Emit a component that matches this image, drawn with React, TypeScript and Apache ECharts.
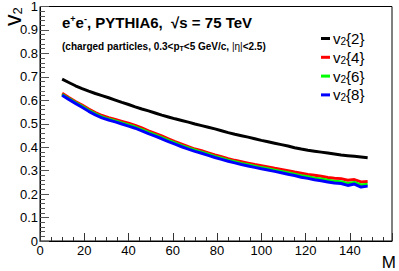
import React, { useEffect, useRef } from 'react';
import * as echarts from 'echarts';

const M = [10, 13, 16, 19, 22, 25, 28, 31, 34, 37, 40, 43, 46, 49, 52, 55, 58, 61, 64, 67, 70, 73, 76, 79, 82, 85, 88, 91, 94, 97, 100, 103, 106, 109, 112, 115, 118, 121, 124, 127, 130, 133, 136, 139, 142, 145, 148];
const v22 = [0.690, 0.676, 0.662, 0.650, 0.639, 0.629, 0.620, 0.611, 0.601, 0.591, 0.582, 0.572, 0.563, 0.555, 0.546, 0.537, 0.529, 0.521, 0.514, 0.507, 0.499, 0.492, 0.485, 0.478, 0.470, 0.462, 0.455, 0.449, 0.443, 0.436, 0.429, 0.423, 0.417, 0.411, 0.405, 0.398, 0.392, 0.387, 0.383, 0.379, 0.375, 0.371, 0.367, 0.364, 0.361, 0.358, 0.355];
const v24 = [0.630, 0.612, 0.595, 0.580, 0.563, 0.548, 0.535, 0.526, 0.518, 0.510, 0.502, 0.493, 0.482, 0.470, 0.459, 0.448, 0.436, 0.424, 0.413, 0.402, 0.392, 0.385, 0.376, 0.367, 0.359, 0.351, 0.344, 0.338, 0.332, 0.326, 0.321, 0.316, 0.310, 0.305, 0.300, 0.294, 0.289, 0.284, 0.280, 0.276, 0.271, 0.268, 0.266, 0.259, 0.262, 0.252, 0.254];
const v26 = [0.625, 0.607, 0.590, 0.574, 0.557, 0.542, 0.529, 0.520, 0.512, 0.503, 0.495, 0.486, 0.475, 0.463, 0.452, 0.441, 0.429, 0.418, 0.407, 0.397, 0.387, 0.379, 0.370, 0.361, 0.353, 0.345, 0.338, 0.331, 0.325, 0.319, 0.313, 0.308, 0.302, 0.297, 0.291, 0.285, 0.278, 0.274, 0.268, 0.264, 0.259, 0.255, 0.253, 0.245, 0.250, 0.239, 0.242];
const v28 = [0.622, 0.604, 0.587, 0.570, 0.553, 0.538, 0.525, 0.516, 0.508, 0.499, 0.490, 0.481, 0.470, 0.458, 0.447, 0.436, 0.424, 0.413, 0.402, 0.392, 0.382, 0.374, 0.365, 0.356, 0.348, 0.340, 0.333, 0.326, 0.320, 0.314, 0.308, 0.303, 0.297, 0.291, 0.285, 0.279, 0.272, 0.267, 0.261, 0.257, 0.252, 0.247, 0.245, 0.237, 0.243, 0.230, 0.234];
const seriesNames = ['v2{2}', 'v2{4}', 'v2{6}', 'v2{8}'];
const seriesValues = [v22, v24, v26, v28];
const colors = ['#000000', '#ff0000', '#00ff00', '#0000ff'];
const xLabelValues = [0, 20, 40, 60, 80, 100, 120, 140];

const FONT = '"Liberation Sans", Arial, Helvetica, sans-serif';

export default function App() {
  const ref = useRef<HTMLDivElement>(null);
  useEffect(() => {
    if (!ref.current) return;
    const chart = echarts.init(ref.current, undefined, { renderer: 'svg' });
    const series = seriesNames.map((name, i) => ({
      name,
      type: 'line',
      showSymbol: false,
      symbol: 'none',
      color: colors[i],
      lineStyle: { width: 3, color: colors[i] },
      data: M.map((m, j) => [m, seriesValues[i][j]]),
      z: 2 + i,
    }));
    const option: any = {
      animation: false,
      backgroundColor: '#ffffff',
      textStyle: { fontFamily: FONT },
      grid: { left: 40, top: 6, right: 5, bottom: 28, show: true, borderColor: '#000', borderWidth: 1, containLabel: false },
      xAxis: {
        type: 'value', min: 0, max: 159, interval: 20,
        name: 'M', nameLocation: 'end', nameGap: 4,
        nameTextStyle: {
          color: '#000', fontSize: 17, fontFamily: FONT,
          align: 'right', verticalAlign: 'top', padding: [13, 0, 0, 0],
        },
        axisLine: { show: true, lineStyle: { color: '#000', width: 1 } },
        axisTick: { show: true, inside: true, length: 8, lineStyle: { color: '#333' } },
        minorTick: { show: true, splitNumber: 4, length: 4, lineStyle: { color: '#333' } },
        splitLine: { show: false },
        axisLabel: {
          color: '#000', fontSize: 13, fontFamily: FONT, margin: 3,
          formatter: (v: number) => (xLabelValues.indexOf(v) >= 0 ? String(v) : ''),
        },
      },
      yAxis: {
        type: 'value', min: 0, max: 1, interval: 0.1,
        axisLine: { show: true, lineStyle: { color: '#000', width: 1 } },
        axisTick: { show: true, inside: true, length: 9, lineStyle: { color: '#555' } },
        minorTick: { show: true, splitNumber: 5, length: 5, lineStyle: { color: '#555' } },
        splitLine: { show: false },
        axisLabel: {
          color: '#000', fontSize: 13, fontFamily: FONT, margin: 2,
          formatter: (v: number) => String(+v.toFixed(1)),
        },
      },
      legend: {
        orient: 'vertical', left: 321, top: 31, padding: 0,
        itemWidth: 9, itemHeight: 3, itemGap: 3.3, icon: 'rect',
        data: seriesNames,
        textStyle: {
          color: '#000', fontSize: 15, fontFamily: FONT, padding: [0, 0, 0, -2],
          rich: {
            v: { fontSize: 15, fontFamily: FONT, color: '#000', lineHeight: 16 },
            s: { fontSize: 10, fontFamily: FONT, color: '#000', lineHeight: 3, verticalAlign: 'bottom' },
          },
        },
        formatter: (name: string) => {
          const n = name.slice(2);
          return '{v|v}{s|2}{v|' + n.slice(0, n.length - 1) + '}}';
        },
      },
      graphic: [
        {
          type: 'text', x: 62, y: 14, z: 10,
          style: {
            text: '{b|e}{sup|+}{b|e}{sup|-}{b|, PYTHIA6,  √s = 75 TeV}',
            fontFamily: FONT, fontSize: 15, fontWeight: 'bold', fill: '#000',
            rich: {
              b: { fontSize: 15, fontWeight: 'bold', fontFamily: FONT, lineHeight: 17 },
              sup: { fontSize: 9, fontWeight: 'bold', fontFamily: FONT, lineHeight: 9, verticalAlign: 'top' },
            },
          },
        },
        {
          type: 'text', x: 62, y: 40, z: 10,
          style: {
            text: '{b|(charged particles, 0.3<p}{sub|T}{b|<5 GeV/c, }{n||η|}{b|<2.5)}',
            fontFamily: FONT, fontSize: 10, fontWeight: 'bold', fill: '#000',
            rich: {
              b: { fontSize: 10, fontWeight: 'bold', fontFamily: FONT, lineHeight: 12 },
              n: { fontSize: 10, fontWeight: 'normal', fontFamily: FONT, lineHeight: 12 },
              sub: { fontSize: 7, fontWeight: 'bold', fontFamily: FONT, lineHeight: 4, verticalAlign: 'bottom' },
            },
          },
        },
        {
          type: 'text', x: 2, y: 26, rotation: Math.PI / 2, z: 10,
          style: {
            text: '{v|v}{s|2}',
            fontFamily: FONT, fill: '#000',
            rich: {
              v: { fontSize: 23, fontFamily: FONT, lineHeight: 22 },
              s: { fontSize: 13, fontFamily: FONT, lineHeight: 8, verticalAlign: 'bottom' },
            },
          },
        },
      ],
      series,
    };
    chart.setOption(option);
    return () => chart.dispose();
  }, []);
  return (
    <div style={{ position: 'fixed', left: 0, top: 0, width: 399, height: 271, background: '#fff' }}>
      <div ref={ref} style={{ width: 399, height: 271 }} />
    </div>
  );
}
